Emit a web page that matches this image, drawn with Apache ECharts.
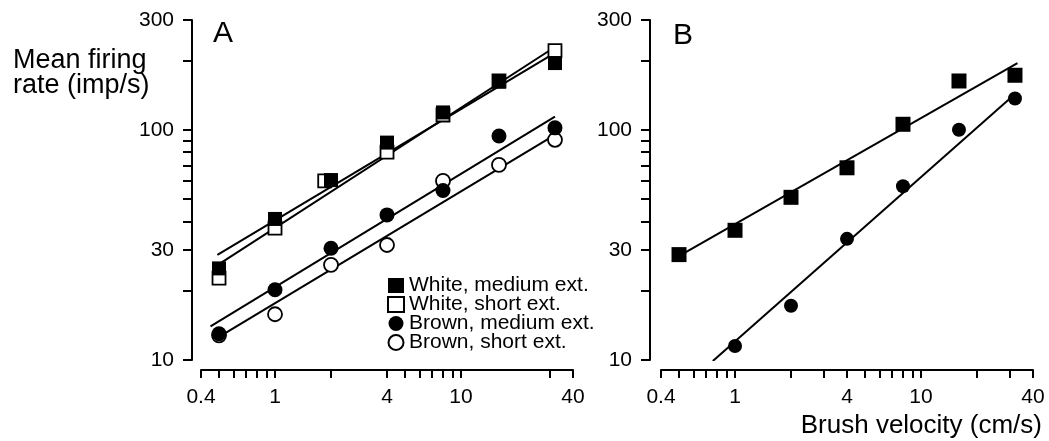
<!DOCTYPE html>
<html>
<head>
<meta charset="utf-8">
<script src="https://cdn.jsdelivr.net/npm/echarts@6/dist/echarts.min.js"></script>
<style>
html,body{margin:0;padding:0;background:#fff;}
#chart{width:1049px;height:441px;}
</style>
</head>
<body>
<div id="chart"></div>
<script>
// ---- data ----
const velocity = [0.5, 1, 2, 4, 8, 16, 32];
const whiteShortX = [0.5, 1, 1.85, 4, 8, 16, 32];
const whiteMedium = [25, 41, 60.5, 88, 119, 162, 195];
const whiteShort = [22.7, 37.4, 60, 80, 116, 163, 221];
const brownMedium = [13.0, 20.2, 30.6, 42.7, 54.5, 94, 102];
const brownShort = [12.8, 15.8, 25.9, 31.6, 60, 70.4, 90.5];

const wmFitX = [0.49, 32], wmFitY = [28.6, 216];
const wsFitX = [0.5, 32], wsFitY = [26.1, 229];
const bmFitX = [0.45, 32], bmFitY = [14.0, 114];
const bsFitX = [0.5, 32], bsFitY = [12.6, 95];

const bSquares = [28.7, 36.6, 50.9, 68.4, 105.7, 163, 172.6];
const bCirclesX = [1, 2, 4, 8, 16, 32];
const bCircles = [11.5, 17.2, 33.6, 56.9, 100, 136.8];
const bSqFitX = [0.47, 33], bSqFitY = [27.5, 195];
const bCiFitX = [0.76, 32.6], bCiFitY = [9.9, 145];

const yTicks = [10, 20, 30, 40, 50, 60, 70, 80, 90, 100, 200, 300];
const yLabels = [10, 30, 100, 300];
const xTicksA = [0.4, 0.5, 0.6, 0.7, 0.8, 0.9, 1, 2, 4, 5, 6, 7, 8, 9, 10, 30, 40];
const xTicksB = [0.4, 0.5, 0.6, 0.7, 0.8, 0.9, 1, 2, 3, 4, 5, 6, 7, 8, 9, 10, 20, 30, 40];
const xLabels = [0.4, 1, 4, 10, 40];

const legendNames = ['White, medium ext.', 'White, short ext.', 'Brown, medium ext.', 'Brown, short ext.'];

// ---- helpers ----
const FONT = '"Liberation Sans", Arial, Helvetica, sans-serif';
const pairs = (xs, ys) => xs.map((x, i) => [x, ys[i]]);

function xAxisDef(gridIndex, ticks) {
  return {
    type: 'log', logBase: 10, gridIndex, min: 0.4, max: 40, offset: 10,
    axisLine: { show: true, lineStyle: { color: '#000', width: 2 } },
    axisTick: { show: true, length: 8, lineStyle: { color: '#000', width: 2 }, customValues: ticks },
    axisLabel: { customValues: xLabels, margin: 17, color: '#000', fontSize: 21, fontFamily: FONT,
      formatter: v => String(+(+v).toPrecision(3)) },
    splitLine: { show: false }, minorTick: { show: false }
  };
}
function yAxisDef(gridIndex, off) {
  return {
    type: 'log', logBase: 10, gridIndex, min: 10, max: 300, offset: off,
    axisLine: { show: true, lineStyle: { color: '#000', width: 2 } },
    axisTick: { show: true, length: 9, lineStyle: { color: '#000', width: 2 }, customValues: yTicks },
    axisLabel: { customValues: yLabels, margin: 18, color: '#000', fontSize: 21, fontFamily: FONT,
      formatter: v => String(Math.round(+v)) },
    splitLine: { show: false }, minorTick: { show: false }
  };
}
const fitLine = (xi, data) => ({
  type: 'line', xAxisIndex: xi, yAxisIndex: xi, data, showSymbol: false, symbol: 'none',
  lineStyle: { color: '#000', width: 2 }, silent: true, z: 2, animation: false
});
const filled = { color: '#000', opacity: 1 };
const open = { color: '#fff', borderColor: '#000', borderWidth: 1.8, opacity: 1 };

const option = {
  animation: false,
  backgroundColor: '#fff',
  title: [
    { text: 'Mean firing\nrate (imp/s)', left: 8, top: 43,
      textStyle: { fontSize: 27, lineHeight: 25, fontWeight: 'normal', color: '#000', fontFamily: FONT } },
    { text: 'A', left: 208, top: 14,
      textStyle: { fontSize: 30, lineHeight: 30, fontWeight: 'normal', color: '#000', fontFamily: FONT } },
    { text: 'B', left: 668, top: 16,
      textStyle: { fontSize: 30, lineHeight: 30, fontWeight: 'normal', color: '#000', fontFamily: FONT } },
    { text: 'Brush velocity (cm/s)', right: 2, top: 408,
      textStyle: { fontSize: 26, lineHeight: 26, fontWeight: 'normal', color: '#000', fontFamily: FONT } }
  ],
  legend: {
    data: legendNames, orient: 'vertical', left: 387, top: 275, padding: 0,
    itemWidth: 16, itemHeight: 15, itemGap: -2,
    textStyle: { fontSize: 21, lineHeight: 19, color: '#000', fontFamily: FONT },
    selectedMode: false
  },
  grid: [
    { left: 201, top: 20, width: 372, height: 340 },
    { left: 661, top: 20, width: 372, height: 340 }
  ],
  xAxis: [xAxisDef(0, xTicksA), xAxisDef(1, xTicksB)],
  yAxis: [yAxisDef(0, 9), yAxisDef(1, 11)],
  series: [
    fitLine(0, pairs(wmFitX, wmFitY)),
    fitLine(0, pairs(wsFitX, wsFitY)),
    fitLine(0, pairs(bmFitX, bmFitY)),
    fitLine(0, pairs(bsFitX, bsFitY)),
    { name: legendNames[3], type: 'scatter', xAxisIndex: 0, yAxisIndex: 0, symbol: 'circle', symbolSize: 14,
      itemStyle: open, data: pairs(velocity, brownShort), z: 3 },
    { name: legendNames[2], type: 'scatter', xAxisIndex: 0, yAxisIndex: 0, symbol: 'circle', symbolSize: 15,
      itemStyle: filled, data: pairs(velocity, brownMedium), z: 4 },
    { name: legendNames[1], type: 'scatter', xAxisIndex: 0, yAxisIndex: 0, symbol: 'rect', symbolSize: 13,
      itemStyle: open, data: pairs(whiteShortX, whiteShort), z: 3 },
    { name: legendNames[0], type: 'scatter', xAxisIndex: 0, yAxisIndex: 0, symbol: 'rect', symbolSize: 14,
      itemStyle: filled, data: pairs(velocity, whiteMedium), z: 4 },
    fitLine(1, pairs(bSqFitX, bSqFitY)),
    fitLine(1, pairs(bCiFitX, bCiFitY)),
    { type: 'scatter', xAxisIndex: 1, yAxisIndex: 1, symbol: 'rect', symbolSize: 15,
      itemStyle: filled, data: pairs(velocity, bSquares), z: 4 },
    { type: 'scatter', xAxisIndex: 1, yAxisIndex: 1, symbol: 'circle', symbolSize: 14,
      itemStyle: filled, data: pairs(bCirclesX, bCircles), z: 4 }
  ]
};
const chart = echarts.init(document.getElementById('chart'), null, { renderer: 'canvas' });
chart.setOption(option);
</script>
</body>
</html>
